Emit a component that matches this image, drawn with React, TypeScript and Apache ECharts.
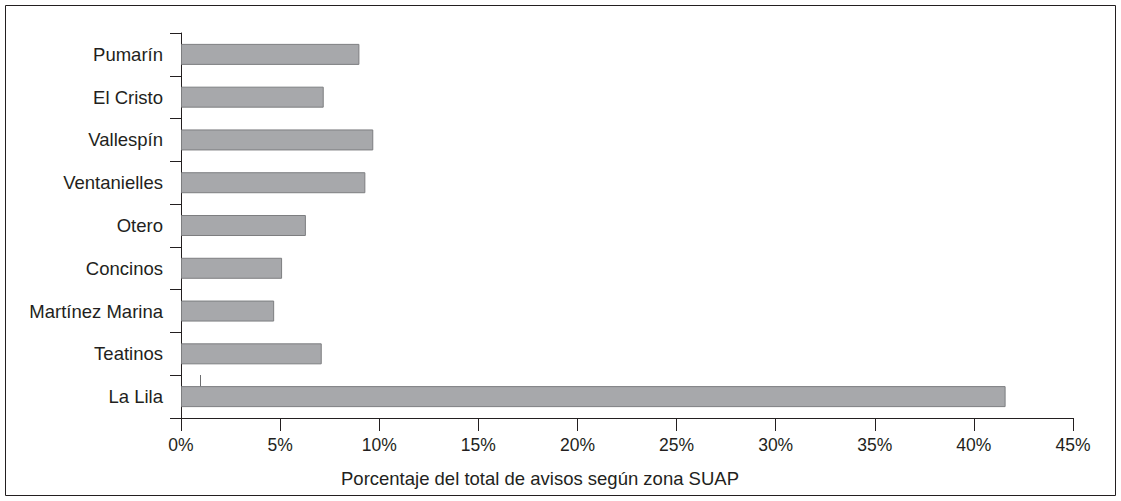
import React, { useEffect, useRef } from "react";
import * as echarts from "echarts";

const categories = [
  "Pumarín",
  "El Cristo",
  "Vallespín",
  "Ventanielles",
  "Otero",
  "Concinos",
  "Martínez Marina",
  "Teatinos",
  "La Lila",
];
const values = [9.0, 7.2, 9.7, 9.3, 6.3, 5.1, 4.7, 7.1, 41.6];
const xTicks = [0, 5, 10, 15, 20, 25, 30, 35, 40, 45];
const axisTitle = "Porcentaje del total de avisos según zona SUAP";

export default function App() {
  const ref = useRef<HTMLDivElement>(null);
  useEffect(() => {
    if (!ref.current) return;
    const chart = echarts.init(ref.current, null, { renderer: "svg" });
    const textColor = "#231f20";
    const font = "Liberation Sans";
    chart.setOption({
      animation: false,
      backgroundColor: "#ffffff",
      grid: { left: 181, right: 48, top: 33, bottom: 83, containLabel: false },
      xAxis: {
        type: "value",
        min: xTicks[0],
        max: xTicks[xTicks.length - 1],
        interval: 5,
        splitLine: { show: false },
        axisLine: { show: true, lineStyle: { color: "#231f20", width: 1 } },
        axisTick: { show: true, length: 13, lineStyle: { color: "#231f20" } },
        axisLabel: {
          color: textColor,
          fontFamily: font,
          fontSize: 17.5,
          margin: 18,
          formatter: (v: number) => `${v}%`,
        },
      },
      yAxis: {
        type: "category",
        data: categories,
        inverse: true,
        axisLine: { show: true, lineStyle: { color: "#231f20", width: 1 } },
        axisTick: { show: true, length: 11, lineStyle: { color: "#231f20" } },
        axisLabel: {
          color: textColor,
          fontFamily: font,
          fontSize: 18.5,
          margin: 18,
        },
      },
      series: [
        {
          type: "bar",
          data: values,
          barWidth: 21,
          itemStyle: {
            color: "#a7a8ab",
            borderColor: "#7d7e80",
            borderWidth: 1,
          },
        },
      ],
      graphic: [
        {
          type: "rect",
          shape: { x: 5.5, y: 5.5, width: 1110, height: 490 },
          style: { fill: "none", stroke: "#231f20", lineWidth: 1 },
          silent: true,
        },
        {
          type: "line",
          shape: { x1: 200.5, y1: 375, x2: 200.5, y2: 388 },
          style: { stroke: "#6d6e70", lineWidth: 1 },
          silent: true,
        },
        {
          type: "text",
          left: 341,
          top: 469,
          style: {
            text: axisTitle,
            fill: textColor,
            font: `18.5px "${font}"`,
          },
        },
      ],
    });
    return () => chart.dispose();
  }, []);
  return (
    <div
      ref={ref}
      style={{ position: "fixed", left: 0, top: 0, width: 1121, height: 501 }}
    />
  );
}
